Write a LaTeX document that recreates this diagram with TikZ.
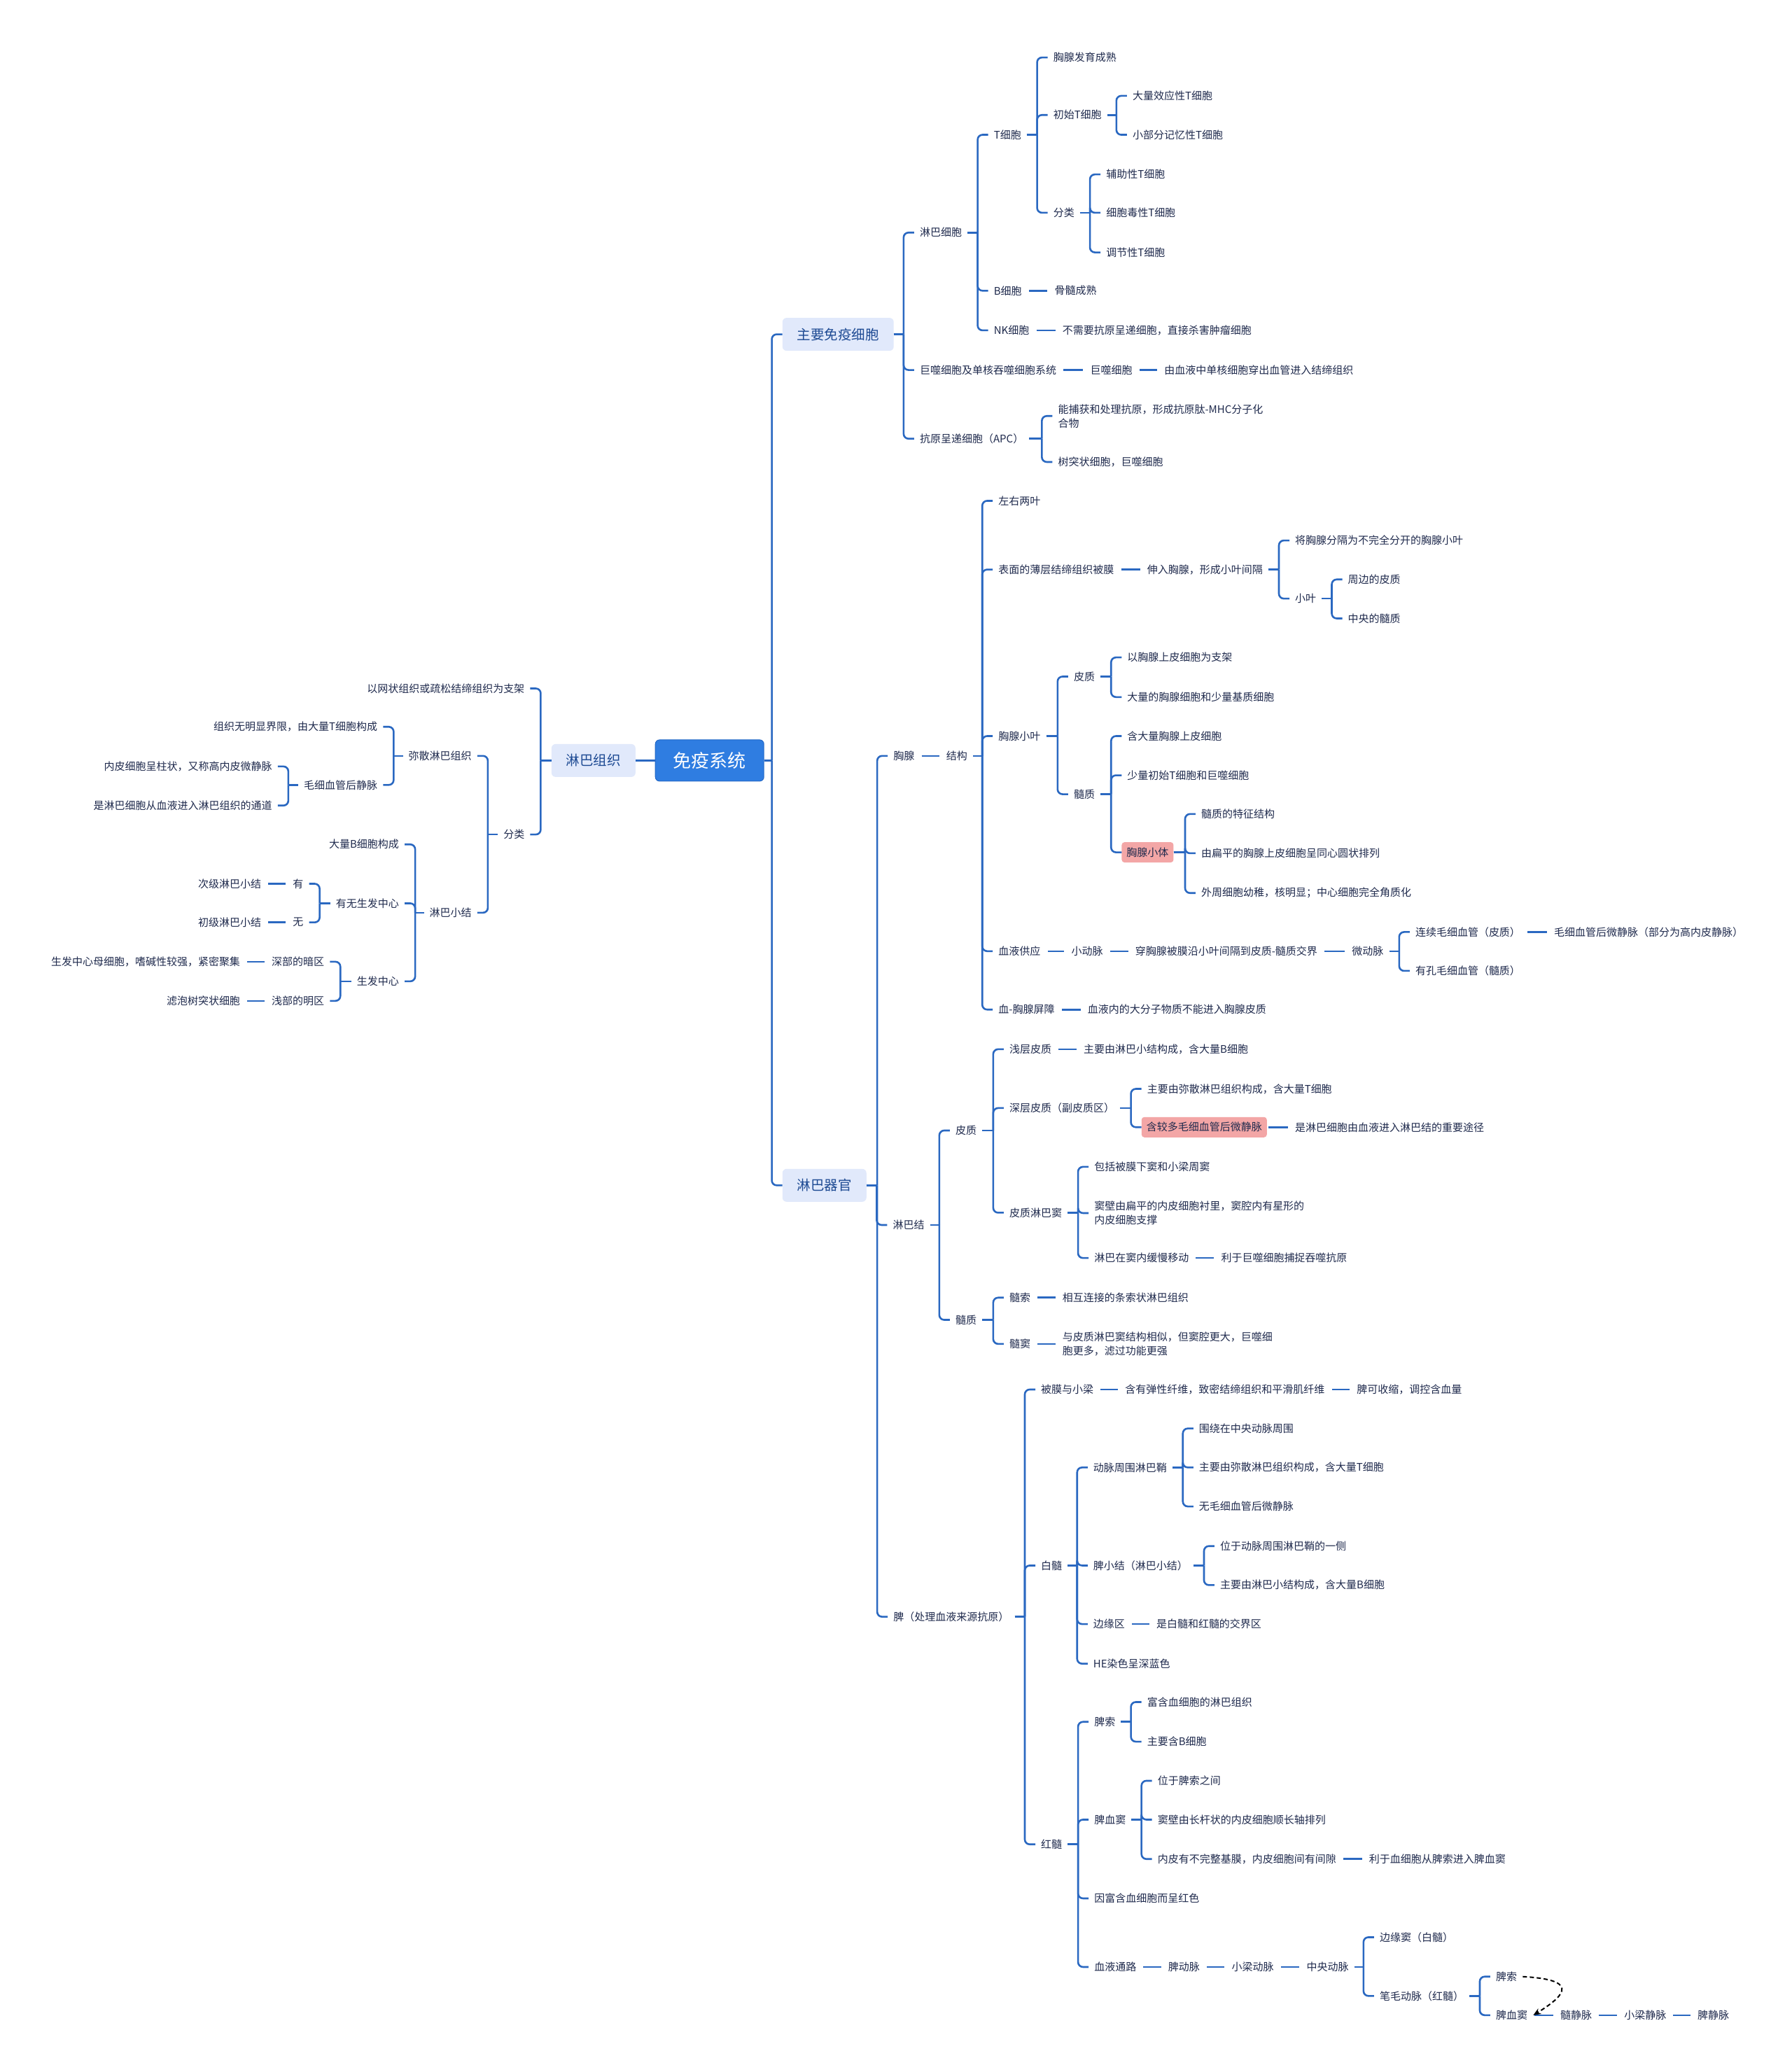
\documentclass[tikz,border=0pt]{standalone}
\usepackage{fontspec}
\setmainfont{Noto Sans CJK SC}
\usetikzlibrary{arrows.meta}
\definecolor{linkblue}{HTML}{2A68C1}
\definecolor{inkblue}{HTML}{1F2A4D}
\definecolor{topicblue}{HTML}{1D4A93}
\definecolor{topicfill}{HTML}{E1E9FB}
\definecolor{rootblue}{HTML}{2F7DE1}
\definecolor{rootedge}{HTML}{2267C6}
\definecolor{pinkfill}{HTML}{F3A6A6}
\tikzset{
  leaf/.style={font=\fontsize{15}{20}\selectfont, text=inkblue, inner xsep=8pt, inner ysep=3pt, align=left},
  rleaf/.style={leaf, anchor=west, xshift=-8pt},
  lleaf/.style={leaf, anchor=east, xshift=8pt},
  hl/.style={rleaf, fill=pinkfill, rounded corners=4pt, inner xsep=7pt, minimum height=29pt},
  topic/.style={font=\fontsize{19.5}{22}\selectfont, text=topicblue, fill=topicfill, rounded corners=6pt, minimum height=47pt, inner xsep=21pt},
  core/.style={font=\fontsize{26}{30}\selectfont, text=white, fill=rootblue, draw=rootedge, line width=1pt, rounded corners=6pt, minimum width=155pt, minimum height=59pt},
  link/.style={draw=linkblue, line width=2.6pt},
  flow/.style={draw=black, dash pattern=on 6pt off 4pt, line width=2pt, -{Stealth[length=11pt,width=9pt]}},
}
% branch to the right / to the left
\newcommand{\rfork}[2]{\foreach \kid in {#2}{%
  \coordinate (j) at ([xshift=-15pt]\kid.west);
  \draw[link] (#1.east) -- (j |- #1.east);
  \draw[link, rounded corners=7pt] (j |- #1.east) |- (\kid.west);}}
\newcommand{\lfork}[2]{\foreach \kid in {#2}{%
  \coordinate (j) at ([xshift=15pt]\kid.east);
  \draw[link] (#1.west) -- (j |- #1.west);
  \draw[link, rounded corners=7pt] (j |- #1.west) |- (\kid.east);}}
% straight links
\newcommand{\rchain}[1]{\foreach \a/\b in {#1}{\draw[link, shorten <=2pt, shorten >=2pt] (\a.east) -- (\b.west);}}
\newcommand{\lchain}[1]{\foreach \a/\b in {#1}{\draw[link, shorten <=2pt, shorten >=2pt] (\a.west) -- (\b.east);}}

\begin{document}
\begin{tikzpicture}[x=1.888pt, y=-1.888pt]
  \fill[white] (0,0) rectangle (1356,1568);
  \useasboundingbox (0,0) rectangle (1356,1568);

  \node[core] (sys) at (537,575.5) {免疫系统};

  % left: lymphoid tissue
  \node[topic, anchor=east] (lt) at (481,575.5) {淋巴组织};
  \node[lleaf] (lt1) at (397,521) {以网状组织或疏松结缔组织为支架};
  \node[lleaf] (ltcls) at (397,631.5) {分类};
  \node[lleaf] (dif) at (357,572) {弥散淋巴组织};
  \node[lleaf] (nodl) at (357,690.7) {淋巴小结};
  \node[lleaf] (dif1) at (285.7,550) {组织无明显界限，由大量T细胞构成};
  \node[lleaf] (hev) at (285.7,594) {毛细血管后静脉};
  \node[lleaf] (hev1) at (206,580) {内皮细胞呈柱状，又称高内皮微静脉};
  \node[lleaf] (hev2) at (206,609.6) {是淋巴细胞从血液进入淋巴组织的通道};
  \node[lleaf] (nodl1) at (302,639) {大量B细胞构成};
  \node[lleaf] (gcq) at (302,683.6) {有无生发中心};
  \node[lleaf] (gc) at (302,742.6) {生发中心};
  \node[lleaf] (yes) at (229.7,668.8) {有};
  \node[lleaf] (yes1) at (197.8,668.8) {次级淋巴小结};
  \node[lleaf] (no) at (229.7,698) {无};
  \node[lleaf] (no1) at (197.8,698) {初级淋巴小结};
  \node[lleaf] (dark) at (245.4,727.8) {深部的暗区};
  \node[lleaf] (dark1) at (181.8,727.8) {生发中心母细胞，嗜碱性较强，紧密聚集};
  \node[lleaf] (light) at (245.4,757.4) {浅部的明区};
  \node[lleaf] (light1) at (181.8,757.4) {滤泡树突状细胞};

  \draw[link] (sys.west) -- (lt.east);
  \lfork{lt}{lt1,ltcls}
  \lfork{ltcls}{dif,nodl}
  \lfork{dif}{dif1,hev}
  \lfork{hev}{hev1,hev2}
  \lfork{nodl}{nodl1,gcq,gc}
  \lfork{gcq}{yes,no}
  \lfork{gc}{dark,light}
  \lchain{yes/yes1, no/no1, dark/dark1, light/light1}

  % right: immune cells
  \node[topic, anchor=west] (mic) at (592,253) {主要免疫细胞};
  \node[rleaf] (lyc) at (696,176) {淋巴细胞};
  \node[rleaf] (tc) at (752,102) {T细胞};
  \node[rleaf] (tc1) at (797,43.5) {胸腺发育成熟};
  \node[rleaf] (nt) at (797,87) {初始T细胞};
  \node[rleaf] (nt1) at (857,72.5) {大量效应性T细胞};
  \node[rleaf] (nt2) at (857,102) {小部分记忆性T细胞};
  \node[rleaf] (tcls) at (797,161) {分类};
  \node[rleaf] (tcls1) at (837,132) {辅助性T细胞};
  \node[rleaf] (tcls2) at (837,161) {细胞毒性T细胞};
  \node[rleaf] (tcls3) at (837,191) {调节性T细胞};
  \node[rleaf] (bc) at (752,220) {B细胞};
  \node[rleaf] (bc1) at (798,220) {骨髓成熟};
  \node[rleaf] (nk) at (752,250) {NK细胞};
  \node[rleaf] (nk1) at (804,250) {不需要抗原呈递细胞，直接杀害肿瘤细胞};
  \node[rleaf] (mac) at (696,280) {巨噬细胞及单核吞噬细胞系统};
  \node[rleaf] (mac1) at (825,280) {巨噬细胞};
  \node[rleaf] (mac2) at (881,280) {由血液中单核细胞穿出血管进入结缔组织};
  \node[rleaf] (apc) at (696,332) {抗原呈递细胞（APC）};
  \node[rleaf] (apc1) at (800.6,314.8) {能捕获和处理抗原，形成抗原肽-MHC分子化\\合物};
  \node[rleaf] (apc2) at (800.6,349.6) {树突状细胞，巨噬细胞};

  % right: lymphoid organs
  \node[topic, anchor=west] (lorg) at (592,897) {淋巴器官};
  \node[rleaf] (thy) at (676,572) {胸腺};
  \node[rleaf] (thys) at (716,572) {结构};
  \node[rleaf] (thy1) at (755.5,379) {左右两叶};
  \node[rleaf] (cap) at (755.5,431) {表面的薄层结缔组织被膜};
  \node[rleaf] (cap1) at (868,431) {伸入胸腺，形成小叶间隔};
  \node[rleaf] (sep1) at (980,409) {将胸腺分隔为不完全分开的胸腺小叶};
  \node[rleaf] (lob) at (980,453) {小叶};
  \node[rleaf] (lob1) at (1020,438.5) {周边的皮质};
  \node[rleaf] (lob2) at (1020,468) {中央的髓质};
  \node[rleaf] (tlob) at (755.5,557) {胸腺小叶};
  \node[rleaf] (tcx) at (812.5,512) {皮质};
  \node[rleaf] (tcx1) at (853,497.5) {以胸腺上皮细胞为支架};
  \node[rleaf] (tcx2) at (853,527.5) {大量的胸腺细胞和少量基质细胞};
  \node[rleaf] (tmd) at (812.5,601) {髓质};
  \node[rleaf] (tmd1) at (853,557) {含大量胸腺上皮细胞};
  \node[rleaf] (tmd2) at (853,586.7) {少量初始T细胞和巨噬细胞};
  \node[hl] (hassall) at (853,645) {胸腺小体};
  \node[rleaf] (has1) at (909,616) {髓质的特征结构};
  \node[rleaf] (has2) at (909,645.7) {由扁平的胸腺上皮细胞呈同心圆状排列};
  \node[rleaf] (has3) at (909,675.8) {外周细胞幼稚，核明显；中心细胞完全角质化};
  \node[rleaf] (blood) at (755.5,719.8) {血液供应};
  \node[rleaf] (art) at (810.7,719.8) {小动脉};
  \node[rleaf] (art1) at (859,719.8) {穿胸腺被膜沿小叶间隔到皮质-髓质交界};
  \node[rleaf] (arl) at (1023,719.8) {微动脉};
  \node[rleaf] (capc) at (1071,705.3) {连续毛细血管（皮质）};
  \node[rleaf] (capc1) at (1176,705.3) {毛细血管后微静脉（部分为高内皮静脉）};
  \node[rleaf] (capf) at (1071,734.7) {有孔毛细血管（髓质）};
  \node[rleaf] (bar) at (755.5,764) {血-胸腺屏障};
  \node[rleaf] (bar1) at (823,764) {血液内的大分子物质不能进入胸腺皮质};

  \node[rleaf] (ln) at (675.6,927) {淋巴结};
  \node[rleaf] (lcx) at (723,855.5) {皮质};
  \node[rleaf] (scx) at (763.8,794) {浅层皮质};
  \node[rleaf] (scx1) at (820,794) {主要由淋巴小结构成，含大量B细胞};
  \node[rleaf] (dcx) at (763.8,838.5) {深层皮质（副皮质区）};
  \node[rleaf] (dcx1) at (868,824) {主要由弥散淋巴组织构成，含大量T细胞};
  \node[hl] (dcx2) at (868,853) {含较多毛细血管后微静脉};
  \node[rleaf] (dcx3) at (980,853) {是淋巴细胞由血液进入淋巴结的重要途径};
  \node[rleaf] (sinus) at (763.8,917.7) {皮质淋巴窦};
  \node[rleaf] (sin1) at (828,883) {包括被膜下窦和小梁周窦};
  \node[rleaf] (sin2) at (828,918) {窦壁由扁平的内皮细胞衬里，窦腔内有星形的\\内皮细胞支撑};
  \node[rleaf] (sin3) at (828,952) {淋巴在窦内缓慢移动};
  \node[rleaf] (sin4) at (924,952) {利于巨噬细胞捕捉吞噬抗原};
  \node[rleaf] (lmd) at (723,998.8) {髓质};
  \node[rleaf] (mcord) at (763.8,982) {髓索};
  \node[rleaf] (mcord1) at (804,982) {相互连接的条索状淋巴组织};
  \node[rleaf] (msin) at (763.8,1017) {髓窦};
  \node[rleaf] (msin1) at (804,1017) {与皮质淋巴窦结构相似，但窦腔更大，巨噬细\\胞更多，滤过功能更强};

  \node[rleaf] (spl) at (676,1223.5) {脾（处理血液来源抗原）};
  \node[rleaf] (caps) at (787.7,1051.5) {被膜与小梁};
  \node[rleaf] (caps1) at (851.4,1051.5) {含有弹性纤维，致密结缔组织和平滑肌纤维};
  \node[rleaf] (caps2) at (1026.7,1051.5) {脾可收缩，调控含血量};
  \node[rleaf] (wp) at (787.7,1184.7) {白髓};
  \node[rleaf] (pals) at (827.3,1110.5) {动脉周围淋巴鞘};
  \node[rleaf] (pals1) at (907.3,1081) {围绕在中央动脉周围};
  \node[rleaf] (pals2) at (907.3,1110.5) {主要由弥散淋巴组织构成，含大量T细胞};
  \node[rleaf] (pals3) at (907.3,1140) {无毛细血管后微静脉};
  \node[rleaf] (nod) at (827.3,1184.7) {脾小结（淋巴小结）};
  \node[rleaf] (nod1) at (923.3,1170) {位于动脉周围淋巴鞘的一侧};
  \node[rleaf] (nod2) at (923.3,1199.5) {主要由淋巴小结构成，含大量B细胞};
  \node[rleaf] (mz) at (827.3,1229) {边缘区};
  \node[rleaf] (mz1) at (875,1229) {是白髓和红髓的交界区};
  \node[rleaf] (he) at (827.3,1259) {HE染色呈深蓝色};
  \node[rleaf] (rp) at (787.7,1395.7) {红髓};
  \node[rleaf] (cord) at (828,1303) {脾索};
  \node[rleaf] (cord1) at (868,1288) {富含血细胞的淋巴组织};
  \node[rleaf] (cord2) at (868,1318) {主要含B细胞};
  \node[rleaf] (sinu) at (828,1377) {脾血窦};
  \node[rleaf] (sinu1) at (876,1347.6) {位于脾索之间};
  \node[rleaf] (sinu2) at (876,1377) {窦壁由长杆状的内皮细胞顺长轴排列};
  \node[rleaf] (sinu3) at (876,1406.8) {内皮有不完整基膜，内皮细胞间有间隙};
  \node[rleaf] (sinu4) at (1036,1406.8) {利于血细胞从脾索进入脾血窦};
  \node[rleaf] (red) at (828,1436.6) {因富含血细胞而呈红色};
  \node[rleaf] (bpath) at (828,1488.5) {血液通路};
  \node[rleaf] (bp1) at (884,1488.5) {脾动脉};
  \node[rleaf] (bp2) at (932,1488.5) {小梁动脉};
  \node[rleaf] (bp3) at (988.7,1488.5) {中央动脉};
  \node[rleaf] (mws) at (1044,1466) {边缘窦（白髓）};
  \node[rleaf] (pen) at (1044,1510.4) {笔毛动脉（红髓）};
  \node[rleaf] (pcord) at (1132,1495.8) {脾索};
  \node[rleaf] (psin) at (1132,1525) {脾血窦};
  \node[rleaf] (v1) at (1180.7,1525) {髓静脉};
  \node[rleaf] (v2) at (1229,1525) {小梁静脉};
  \node[rleaf] (v3) at (1284.5,1525) {脾静脉};

  \rfork{sys}{mic,lorg}
  \rfork{mic}{lyc,mac,apc}
  \rfork{lyc}{tc,bc,nk}
  \rfork{tc}{tc1,nt,tcls}
  \rfork{nt}{nt1,nt2}
  \rfork{tcls}{tcls1,tcls2,tcls3}
  \rfork{apc}{apc1,apc2}
  \rchain{bc/bc1, nk/nk1, mac/mac1, mac1/mac2}

  \rfork{lorg}{thy,ln,spl}
  \rfork{thys}{thy1,cap,tlob,blood,bar}
  \rfork{cap1}{sep1,lob}
  \rfork{lob}{lob1,lob2}
  \rfork{tlob}{tcx,tmd}
  \rfork{tcx}{tcx1,tcx2}
  \rfork{tmd}{tmd1,tmd2,hassall}
  \rfork{hassall}{has1,has2,has3}
  \rfork{arl}{capc,capf}
  \rchain{thy/thys, cap/cap1, blood/art, art/art1, art1/arl, capc/capc1, bar/bar1}

  \rfork{ln}{lcx,lmd}
  \rfork{lcx}{scx,dcx,sinus}
  \rfork{dcx}{dcx1,dcx2}
  \rfork{sinus}{sin1,sin2,sin3}
  \rfork{lmd}{mcord,msin}
  \rchain{scx/scx1, dcx2/dcx3, sin3/sin4, mcord/mcord1, msin/msin1}

  \rfork{spl}{caps,wp,rp}
  \rfork{wp}{pals,nod,mz,he}
  \rfork{pals}{pals1,pals2,pals3}
  \rfork{nod}{nod1,nod2}
  \rfork{rp}{cord,sinu,red,bpath}
  \rfork{cord}{cord1,cord2}
  \rfork{sinu}{sinu1,sinu2,sinu3}
  \rfork{bp3}{mws,pen}
  \rfork{pen}{pcord,psin}
  \rchain{caps/caps1, caps1/caps2, mz/mz1, sinu3/sinu4, bpath/bp1, bp1/bp2, bp2/bp3, psin/v1, v1/v2, v2/v3}

  \draw[flow] (pcord.east) .. controls (1192,1498) and (1188,1508) .. (psin.east);
\end{tikzpicture}
\end{document}
